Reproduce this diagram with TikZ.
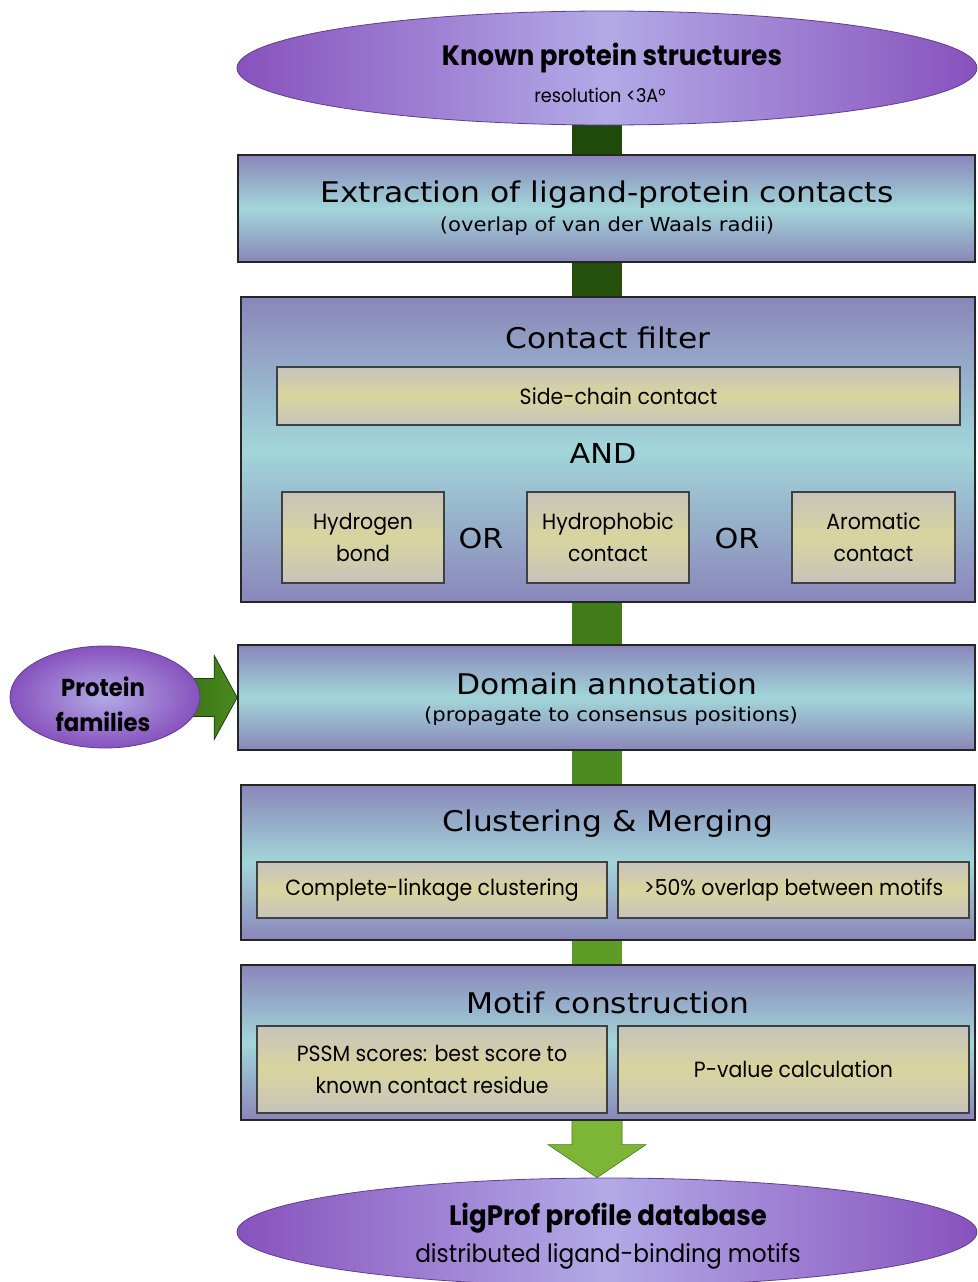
\documentclass[tikz,border=0pt]{standalone}
\usepackage{fontspec}
\setmainfont{DejaVu Sans}
\newfontfamily\titlefont[FakeStretch=1.1]{DejaVu Sans}
\newfontfamily\geo[FakeStretch=0.93]{Poppins}
\usetikzlibrary{shapes.geometric,calc,backgrounds}
\definecolor{boxP}{HTML}{8A86BA}
\definecolor{boxC}{HTML}{A2D6D9}
\definecolor{inG}{HTML}{C6C3BC}
\definecolor{inY}{HTML}{D9D59E}
\definecolor{ellD}{HTML}{8852BE}
\definecolor{ellL}{HTML}{B2AAE6}
\definecolor{ellE}{HTML}{5E3E8E}
\definecolor{gA}{HTML}{1E4A0A}
\definecolor{gB}{HTML}{244F0C}
\definecolor{gC}{HTML}{417C18}
\definecolor{gD}{HTML}{4A8A1E}
\definecolor{gE}{HTML}{5C9B25}
\definecolor{gF}{HTML}{7DB637}
\definecolor{gOut}{HTML}{1F3F0A}
\begin{document}
\begin{tikzpicture}[x=1pt,y=-1pt,
  bigbox/.style={rectangle, draw=black!85, line width=1.6pt, inner sep=0pt,
    top color=boxP, bottom color=boxP, middle color=boxC},
  inbox/.style={rectangle, draw=black!75, line width=1.1pt, inner sep=0pt,
    top color=inG, bottom color=inG, middle color=inY, align=center,
    font=\geo\fontsize{22}{32}\selectfont},
  bigell/.style={ellipse, draw=ellE, line width=0.8pt, inner sep=0pt,
    left color=ellD, right color=ellD, middle color=ellL},
  title/.style={font=\titlefont\fontsize{28.5}{33}\selectfont, inner sep=0pt},
  subtitle/.style={font=\titlefont\fontsize{19.3}{22}\selectfont, inner sep=0pt},
  elltitle/.style={font=\geo\bfseries\fontsize{28}{32}\selectfont, inner sep=0pt},
  ellsub/.style={font=\geo\fontsize{25}{28}\selectfont, inner sep=0pt},
  logic/.style={font=\titlefont\fontsize{27.5}{31}\selectfont, inner sep=0pt},
]
\useasboundingbox (0,0) rectangle (977,1282);
\coordinate (axis) at (597,0);

% top ellipse
\node[bigell, minimum width=740pt, minimum height=114pt] (top) at (607,68) {};
\node[elltitle] (topT) at (612,58) {Known protein structures};
\node[ellsub, font=\geo\fontsize{19}{22}\selectfont] (topS) at (600,95) {resolution <3A°};

% extraction
\node[bigbox, minimum width=737pt, minimum height=107pt] (extr) at (606.5,208.5) {};
\node[title] (extrT) at (607,195) {Extraction of ligand-protein contacts};
\node[subtitle] (extrS) at (607,226) {(overlap of van der Waals radii)};

% contact filter
\node[bigbox, minimum width=734pt, minimum height=305pt] (filt) at (608,449.5) {};
\node[title] (filtT) at (608,338) {Contact filter};
\node[inbox, minimum width=683pt, minimum height=58pt] (side) at (618.5,396) {Side-chain contact};
\node[logic] (and) at (603,453) {AND};
\node[inbox, minimum width=162pt, minimum height=91pt] (hb) at (363,537.5) {Hydrogen\\bond};
\node[logic] (or1) at (481,538) {OR};
\node[inbox, minimum width=162pt, minimum height=91pt] (hp) at (608,537.5) {Hydrophobic\\contact};
\node[logic] (or2) at (737,538) {OR};
\node[inbox, minimum width=163pt, minimum height=91pt] (ar) at (873.5,537.5) {Aromatic\\contact};

% domain annotation
\node[bigbox, minimum width=737pt, minimum height=105pt] (dom) at (606.5,697.5) {};
\node[title] (domT) at (607,684) {Domain annotation};
\node[subtitle] (domS) at (611,716) {(propagate to consensus positions)};

% protein families
\node[ellipse, draw=ellE, line width=0.8pt, inner sep=0pt, inner color=ellL, outer color=ellD,
  minimum width=190pt, minimum height=102pt] (fam) at (105,697) {};
\node[elltitle, align=center, font=\geo\bfseries\fontsize{24.5}{35}\selectfont] (famT) at (103,704) {Protein\\families};

% clustering
\node[bigbox, minimum width=734pt, minimum height=155pt] (clu) at (608,862.5) {};
\node[title] (cluT) at (608,824) {Clustering \& Merging};
\node[inbox, minimum width=350pt, minimum height=56pt] (cl1) at (432,890) {Complete-linkage clustering};
\node[inbox, minimum width=351pt, minimum height=56pt] (cl2) at (793.5,890) {>50\% overlap between motifs};

% motif construction
\node[bigbox, minimum width=734pt, minimum height=155pt] (mot) at (608,1042.5) {};
\node[title] (motT) at (608,1003) {Motif construction};
\node[inbox, minimum width=350pt, minimum height=87pt] (m1) at (432,1069.5) {PSSM scores: best score to\\known contact residue};
\node[inbox, minimum width=351pt, minimum height=87pt] (m2) at (793.5,1069.5) {P-value calculation};

% bottom ellipse
\node[bigell, minimum width=740pt, minimum height=108pt] (bot) at (607,1232) {};
\node[elltitle] (botT) at (608,1218) {LigProf profile database};
\node[ellsub] (botS) at (608,1256) {distributed ligand-binding motifs};

\begin{pgfonlayer}{background}
\fill[white] (0,0) rectangle (977,1282);
\fill[gA] ($(axis|-top.center)+(-25,0)$) rectangle ($(axis|-extr.center)+(25,0)$);
\fill[gB] ($(axis|-extr.center)+(-25,0)$) rectangle ($(axis|-filt.center)+(25,0)$);
\fill[gC] ($(axis|-filt.center)+(-25,0)$) rectangle ($(axis|-dom.center)+(25,0)$);
\fill[gD] ($(axis|-dom.center)+(-25,0)$) rectangle ($(axis|-clu.center)+(25,0)$);
\fill[gE] ($(axis|-clu.center)+(-25,0)$) rectangle ($(axis|-mot.center)+(25,0)$);
\fill[gF, draw=gC, line width=0.6pt] ($(axis|-mot.center)+(-25,0)$) -- ($(axis|-bot.north)+(-25,-33)$)
  -- ++(-24,0) -- (axis|-bot.north) -- ($(axis|-bot.north)+(49,-33)$) -- ++(-24,0)
  -- ($(axis|-mot.center)+(25,0)$) -- cycle;
% protein families arrow
\draw[gOut, line width=0.8pt, left color=gB, right color=gD]
  ($(fam.center)+(0,-19)$) -- ($(dom.west)+(-23,-19)$) -- ($(dom.west)+(-23,-42)$)
  -- (dom.west) -- ($(dom.west)+(-23,42)$) -- ($(dom.west)+(-23,19)$)
  -- ($(fam.center)+(0,19)$) -- cycle;
\end{pgfonlayer}
\end{tikzpicture}
\end{document}
